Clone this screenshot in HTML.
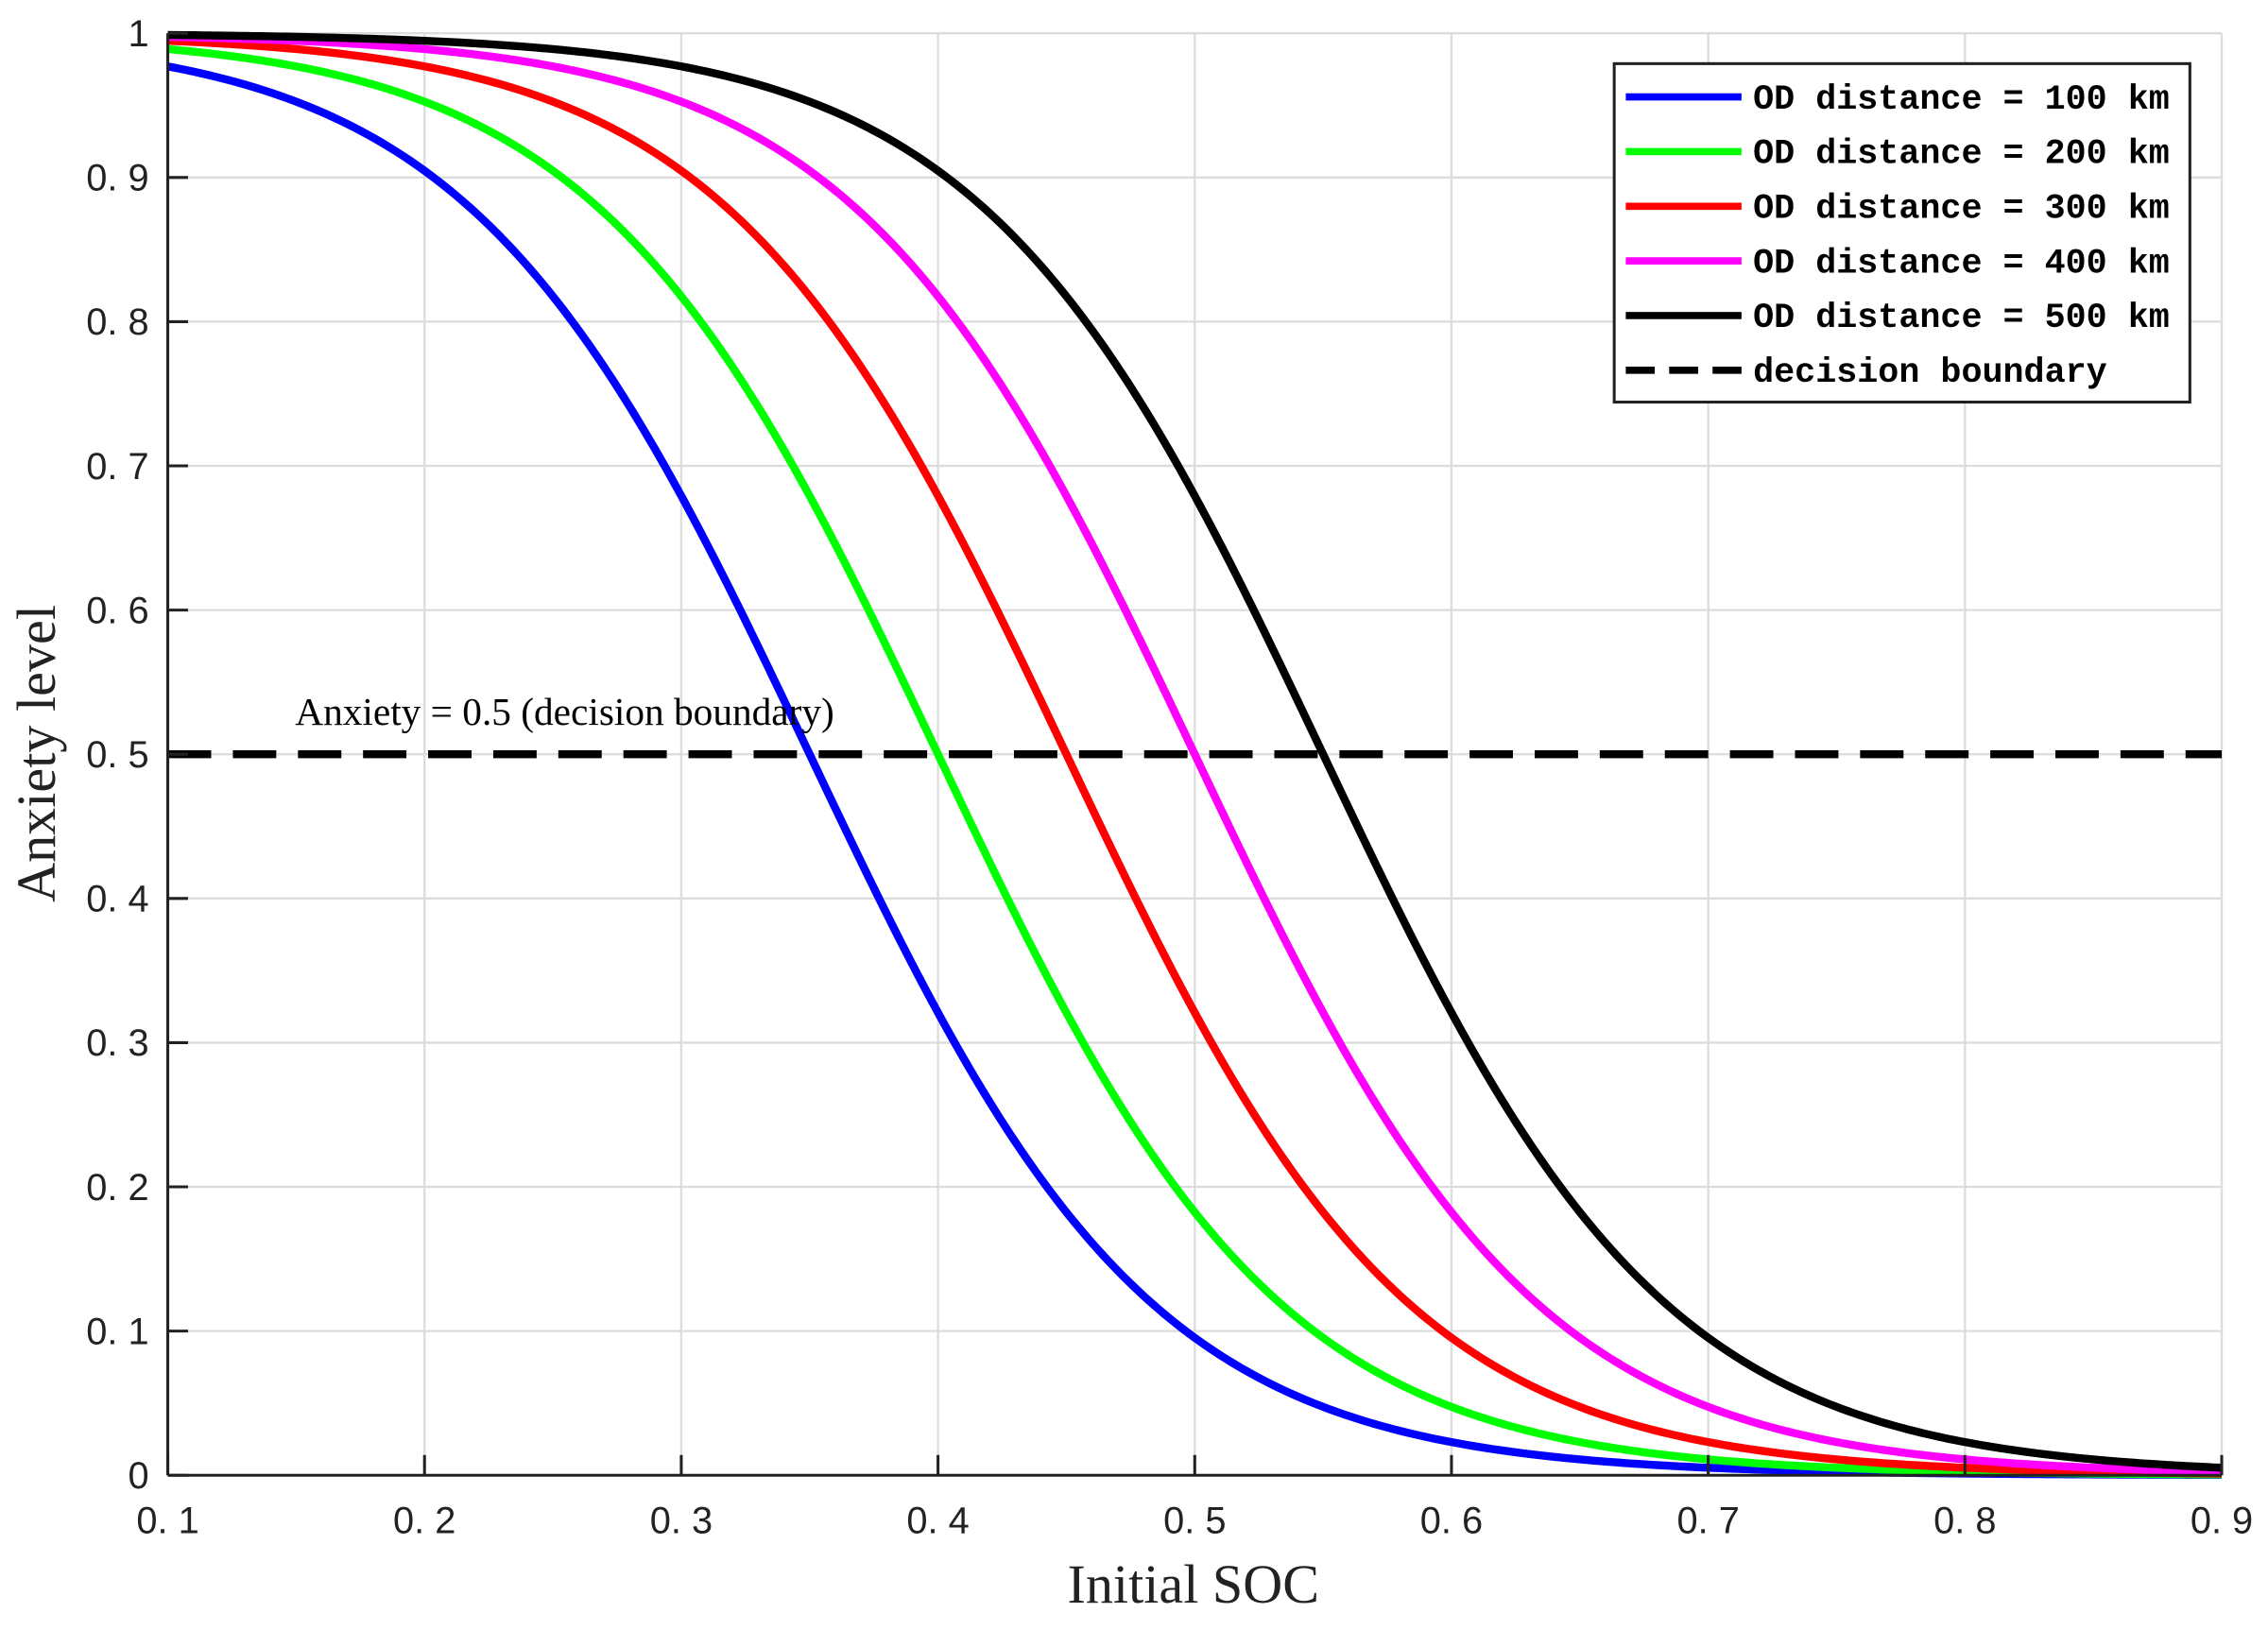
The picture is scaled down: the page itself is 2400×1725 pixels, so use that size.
<!DOCTYPE html>
<html><head><meta charset="utf-8"><style>html,body{margin:0;padding:0;background:#fff}svg{display:block}</style></head>
<body>
<svg id="s" width="2400" height="1725" viewBox="0 0 1568 1127" preserveAspectRatio="none" xmlns="http://www.w3.org/2000/svg">
<rect width="1568" height="1127" fill="#fff"/>
<g id="grid" stroke="#dcdcdc" stroke-width="1.5"></g>
<g id="curves" fill="none" stroke-width="5.5" stroke-linejoin="round"></g>
<line x1="116" y1="521.5" x2="1536" y2="521.5" stroke="#000" stroke-width="5.5" stroke-dasharray="30,15"/>
<g id="axes" stroke="#222" stroke-width="2"></g>
<g id="lab" font-family="Liberation Sans, sans-serif" font-size="26" fill="#222"></g>
<text x="204" y="501" font-family="Liberation Serif, serif" font-size="27" fill="#000">Anxiety = 0.5 (decision boundary)</text>
<text x="825" y="1108" text-anchor="middle" font-family="Liberation Serif, serif" font-size="38" fill="#222">Initial SOC</text>
<text transform="translate(38,521) rotate(-90)" text-anchor="middle" font-family="Liberation Serif, serif" font-size="38" fill="#222">Anxiety level</text>
<rect x="1116" y="44" width="398" height="234" fill="#fff" stroke="#222" stroke-width="2"/>
<g id="leg" font-family="Liberation Mono, monospace" font-size="24" font-weight="bold" fill="#000"></g>
</svg>
<script>
var X=function(v){return 116+(v-0.1)/0.8*1420},Y=function(v){return 1020-v*997};
var ns="http://www.w3.org/2000/svg";
function el(p,t,a,txt){var e=document.createElementNS(ns,t);for(var k in a)e.setAttribute(k,a[k]);if(txt)e.textContent=txt;document.getElementById(p).appendChild(e);}
for(var i=1;i<=9;i++){var x=X(i/10);el('grid','line',{x1:x,y1:23,x2:x,y2:1020});}
for(var j=0;j<=10;j++){var y=Y(j/10);el('grid','line',{x1:116,y1:y,x2:1536,y2:y});}
var cols=['#0000ff','#00ff00','#ff0000','#ff00ff','#000000'];
for(var c=0;c<5;c++){var ctr=0.35+0.05*c,d='';for(var k=0;k<=400;k++){var s=0.1+0.8*k/400,v=1/(1+Math.exp(15*(s-ctr)));d+=(k?'L':'M')+X(s).toFixed(2)+' '+Y(v).toFixed(2);}el('curves','path',{d:d,stroke:cols[c]});}
el('axes','line',{x1:116,y1:1020,x2:1536,y2:1020});el('axes','line',{x1:116,y1:23,x2:116,y2:1020});
for(var i=1;i<=9;i++){var x=X(i/10);el('axes','line',{x1:x,y1:1020,x2:x,y2:1006});el('lab','text',{x:x,y:1060,'text-anchor':'middle'},'0. '+i);}
for(var j=0;j<=10;j++){var y=Y(j/10);el('axes','line',{x1:116,y1:y,x2:130,y2:y});var t=j==0?'0':(j==10?'1':'0. '+j);el('lab','text',{x:103,y:y+9,'text-anchor':'end'},t);}
var names=['OD distance = 100 km','OD distance = 200 km','OD distance = 300 km','OD distance = 400 km','OD distance = 500 km','decision boundary'];
for(var n=0;n<6;n++){var y=67+n*37.8;var a={x1:1124,y1:y,x2:1204,y2:y,stroke:n<5?cols[n]:'#000','stroke-width':5};if(n==5)a['stroke-dasharray']='20,10';el('leg','line',a);el('leg','text',{x:1212,y:y+8},names[n]);}
</script>
</body></html>
